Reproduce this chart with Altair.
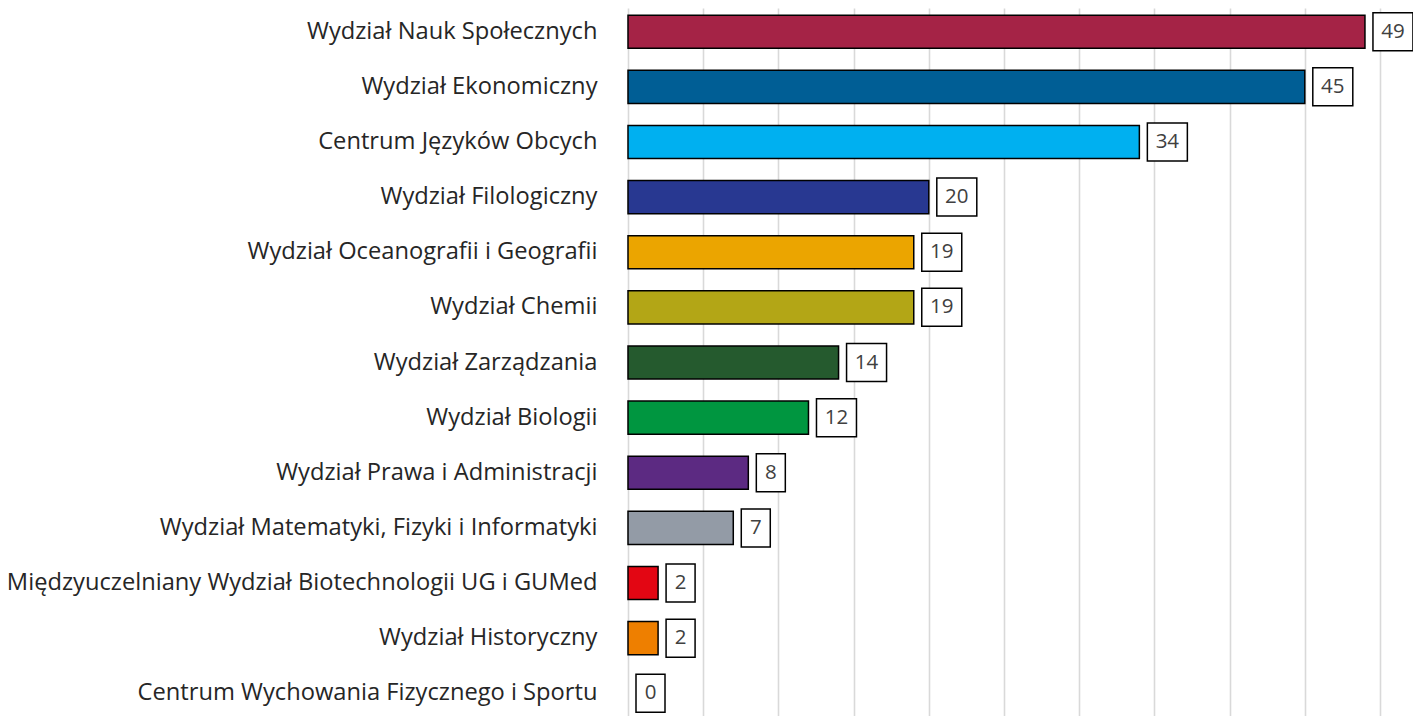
import altair as alt
import pandas as pd

categories = [
    "Wydział Nauk Społecznych",
    "Wydział Ekonomiczny",
    "Centrum Języków Obcych",
    "Wydział Filologiczny",
    "Wydział Oceanografii i Geografii",
    "Wydział Chemii",
    "Wydział Zarządzania",
    "Wydział Biologii",
    "Wydział Prawa i Administracji",
    "Wydział Matematyki, Fizyki i Informatyki",
    "Międzyuczelniany Wydział Biotechnologii UG i GUMed",
    "Wydział Historyczny",
    "Centrum Wychowania Fizycznego i Sportu",
]
values = [49, 45, 34, 20, 19, 19, 14, 12, 8, 7, 2, 2, 0]
colors = [
    "#A52346", "#005E95", "#00B0F0", "#283891", "#EBA500", "#B3A616",
    "#255A2E", "#009640", "#5C2A82", "#939BA6", "#E30613", "#EE7F00", "#9E9E9E",
]

df = pd.DataFrame({"cat": categories, "value": values, "color": colors})
df["label"] = df["value"].astype(str)

FONT = "Open Sans"

y = alt.Y(
    "cat:N",
    sort=categories,
    title=None,
    scale=alt.Scale(paddingInner=0.4, paddingOuter=0.13),
    axis=alt.Axis(
        domain=False, ticks=False, labelFont=FONT, labelFontSize=23.7,
        labelColor="#262626", labelPadding=31, labelLimit=700,
    ),
)
x = alt.X(
    "value:Q",
    title=None,
    scale=alt.Scale(domain=[0, 50], nice=False),
    axis=alt.Axis(
        domain=False, ticks=False, labels=False, values=list(range(0, 55, 5)),
        grid=True, gridColor="#D9D9D9", gridWidth=1.6,
    ),
)

base = alt.Chart(df)

bars = base.transform_filter("datum.value > 0").mark_bar(
    stroke="black", strokeWidth=1.5
).encode(x=x, y=y, color=alt.Color("color:N", scale=None))

box2 = base.transform_filter("datum.value >= 10").mark_rect(
    fill="white", stroke="black", strokeWidth=1.5, xOffset=8, x2Offset=48, height=38
).encode(x="value:Q", x2="value:Q", y=alt.Y("cat:N", sort=categories))

box1 = base.transform_filter("datum.value < 10").mark_rect(
    fill="white", stroke="black", strokeWidth=1.5, xOffset=8, x2Offset=37, height=38
).encode(x="value:Q", x2="value:Q", y=alt.Y("cat:N", sort=categories))

txt2 = base.transform_filter("datum.value >= 10").mark_text(
    font=FONT, fontSize=20.5, color="#404040", dx=28, align="center", baseline="middle"
).encode(x="value:Q", y=alt.Y("cat:N", sort=categories), text="label:N")

txt1 = base.transform_filter("datum.value < 10").mark_text(
    font=FONT, fontSize=20.5, color="#404040", dx=22.5, align="center", baseline="middle"
).encode(x="value:Q", y=alt.Y("cat:N", sort=categories), text="label:N")

chart = alt.layer(bars, box2, box1, txt2, txt1).properties(
    width=752, height=709,
    autosize=alt.AutoSizeParams(type="none"),
    padding={"left": 620, "top": 0, "right": 33, "bottom": 0},
).configure_view(stroke=None)

chart.save("out.html", embed_options={"renderer": "svg", "actions": False})
